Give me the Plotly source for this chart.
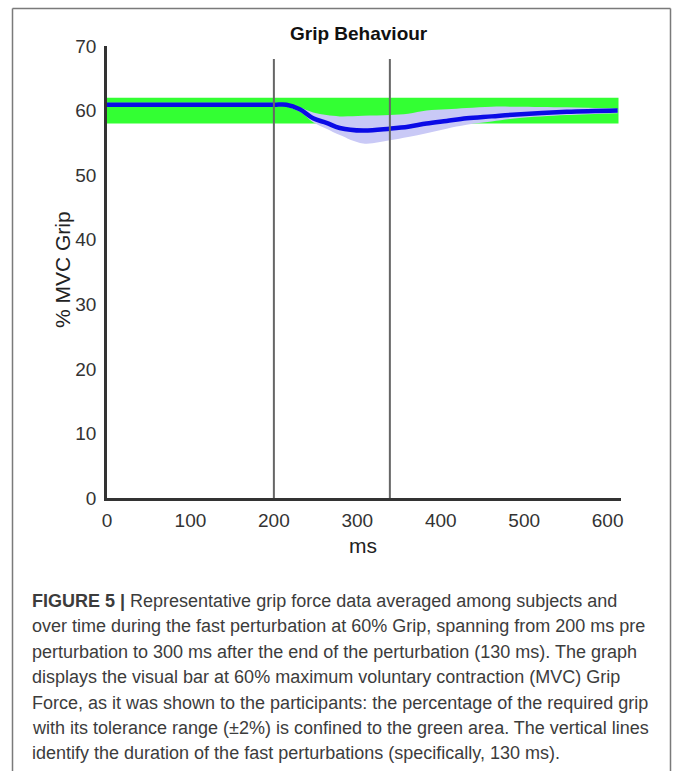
import plotly.graph_objects as go

# ---- data ----
time_ms = [0, 50, 100, 150, 200, 215, 231, 247, 263, 279, 307, 339, 361, 383, 407, 431, 461, 491, 551, 612]
grip_mean = [60.9, 60.9, 60.9, 60.9, 60.9, 60.9, 60.2, 58.8, 58.1, 57.3, 56.9, 57.2, 57.5, 58.0, 58.4, 58.8, 59.1, 59.4, 59.8, 60.0]
grip_upper = [61.2, 61.2, 61.2, 61.2, 61.2, 61.1, 60.5, 59.7, 59.3, 59.1, 59.2, 59.3, 59.5, 60.0, 60.2, 60.4, 60.6, 60.6, 60.5, 60.3]
grip_lower = [60.6, 60.6, 60.6, 60.6, 60.6, 60.6, 59.8, 58.2, 57.2, 56.2, 54.9, 55.4, 55.9, 56.5, 57.2, 57.8, 58.3, 58.8, 59.3, 59.6]

target = 60
tolerance = 2
band_end = 613
perturb_start = 200
perturb_end = 339
x_ticks = [0, 100, 200, 300, 400, 500, 600]
y_ticks = [0, 10, 20, 30, 40, 50, 60, 70]

title_text = "Grip Behaviour"
x_title = "ms"
y_title = "% MVC Grip"
caption_lines = [
    "<b>FIGURE 5 |</b> Representative grip force data averaged among subjects and",
    "over time during the fast perturbation at 60% Grip, spanning from 200 ms pre",
    "perturbation to 300 ms after the end of the perturbation (130 ms). The graph",
    "displays the visual bar at 60% maximum voluntary contraction (MVC) Grip",
    "Force, as it was shown to the participants: the percentage of the required grip",
    "with its tolerance range (\u00b12%) is confined to the green area. The vertical lines",
    "identify the duration of the fast perturbations (specifically, 130 ms).",
]

# ---- layout geometry (pixels) ----
W, H = 673, 771
L, R, T, B = 107, 621, 46, 498


def px(x):
    return (x - L) / (R - L)


def py(y):
    return (B - y) / (B - T)


FONT = "Liberation Sans, Arial, sans-serif"

fig = go.Figure()

# shaded variability band
fig.add_trace(go.Scatter(x=time_ms, y=grip_upper, mode="lines", line=dict(width=0, shape="spline"),
                         hoverinfo="skip", showlegend=False))
fig.add_trace(go.Scatter(x=time_ms, y=grip_lower, mode="lines", line=dict(width=0, shape="spline"),
                         fill="tonexty", fillcolor="#c9c9f6", hoverinfo="skip", showlegend=False))
# mean grip
fig.add_trace(go.Scatter(x=time_ms, y=grip_mean, mode="lines",
                         line=dict(color="#0a0ae6", width=4.5, shape="spline"), showlegend=False))

shapes = [
    # tolerance band
    dict(type="rect", xref="x", yref="y", x0=0, x1=band_end, y0=target - tolerance, y1=target + tolerance,
         fillcolor="#33ff33", line=dict(width=0), layer="below"),
    # perturbation lines
    dict(type="line", xref="x", yref="y", x0=perturb_start, x1=perturb_start, y0=0, y1=68,
         line=dict(color="#666666", width=2), layer="above"),
    dict(type="line", xref="x", yref="y", x0=perturb_end, x1=perturb_end, y0=0, y1=68,
         line=dict(color="#666666", width=2), layer="above"),
    # frame
    dict(type="line", xref="paper", yref="paper", x0=px(12.5), x1=px(670.5), y0=py(8.5), y1=py(8.5),
         line=dict(color="#7a7a7a", width=1.5)),
    dict(type="line", xref="paper", yref="paper", x0=px(12.5), x1=px(12.5), y0=py(8.5), y1=py(800),
         line=dict(color="#7a7a7a", width=1.5)),
    dict(type="line", xref="paper", yref="paper", x0=px(670.5), x1=px(670.5), y0=py(8.5), y1=py(800),
         line=dict(color="#7a7a7a", width=1.5)),
]

annotations = [
    dict(text="<b>" + title_text + "</b>", xref="paper", yref="paper", x=px(359), y=py(34),
         showarrow=False, xanchor="center", yanchor="middle", font=dict(family=FONT, size=19, color="#111")),
    dict(text=x_title, xref="paper", yref="paper", x=px(363), y=py(545),
         showarrow=False, xanchor="center", yanchor="middle", font=dict(family=FONT, size=21, color="#222")),
    dict(text=y_title, xref="paper", yref="paper", x=px(62), y=py(270), textangle=-90,
         showarrow=False, xanchor="center", yanchor="middle", font=dict(family=FONT, size=21, color="#222")),
]

line_y0 = 601
line_gap = 25.4
for i, t in enumerate(caption_lines):
    annotations.append(dict(text=t, xref="paper", yref="paper", x=px(30), y=py(line_y0 + i * line_gap),
                            showarrow=False, xanchor="left", yanchor="middle", align="left",
                            font=dict(family=FONT, size=18, color="#3c3c3c")))

fig.update_layout(
    width=W, height=H,
    margin=dict(l=L, r=W - R, t=T, b=H - B, autoexpand=False),
    paper_bgcolor="white", plot_bgcolor="white",
    shapes=shapes, annotations=annotations,
    showlegend=False,
    xaxis=dict(range=[0, 616], tickvals=x_ticks, showgrid=False, zeroline=False, showline=True,
               linecolor="#333", linewidth=2.5, ticks="", ticklabelstandoff=3,
               tickfont=dict(family=FONT, size=19, color="#333"), fixedrange=True),
    yaxis=dict(range=[0, 70], tickvals=y_ticks, showgrid=False, zeroline=False, showline=True,
               linecolor="#333", linewidth=2.5, ticks="", ticklabelstandoff=4,
               tickfont=dict(family=FONT, size=19, color="#333"), fixedrange=True),
)

fig.write_html("out.html", config={"displayModeBar": False},
               post_script="document.body.style.margin='0';document.body.style.overflow='hidden';")
